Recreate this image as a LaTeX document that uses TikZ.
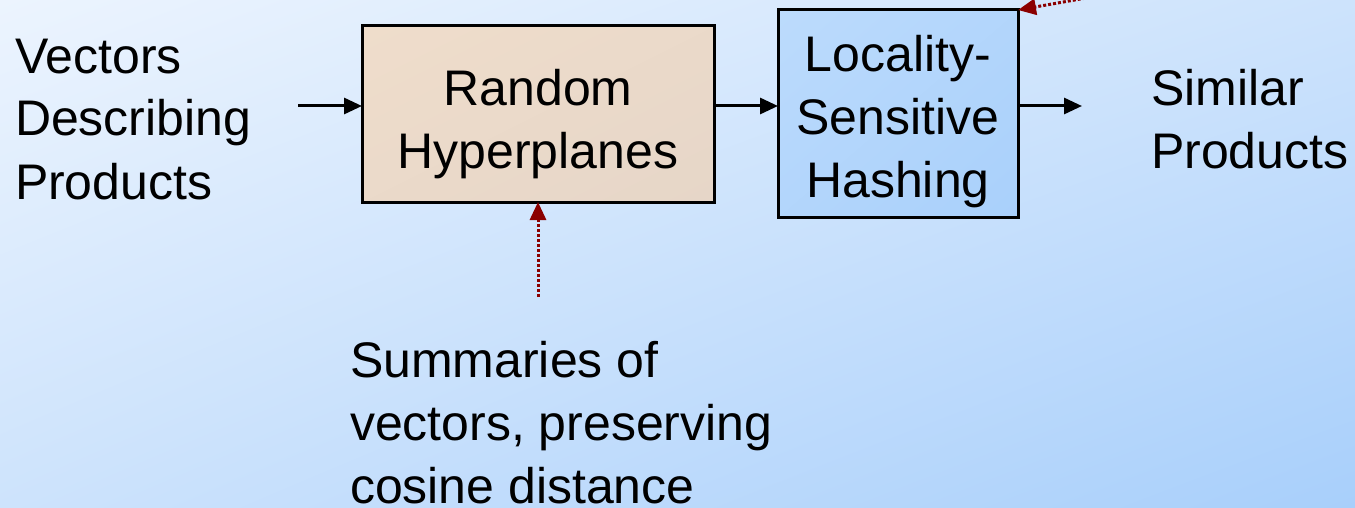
\documentclass[tikz,border=0pt]{standalone}
\usepackage{fontspec}
\setmainfont{Liberation Sans}
\usetikzlibrary{arrows.meta,shadings}
\definecolor{bgA}{HTML}{ECF4FE}
\definecolor{bgB}{HTML}{CDE3FC}
\definecolor{bgC}{HTML}{A8CFFB}
\definecolor{peachA}{HTML}{EFDDCB}
\definecolor{peachB}{HTML}{E6D6C8}
\definecolor{blueA}{HTML}{BCDBFC}
\definecolor{blueB}{HTML}{A9D0FB}
\definecolor{dred}{HTML}{8B0000}
\tikzset{
  txt/.style={inner sep=0pt,outer sep=0pt,font=\fontsize{50}{63}\selectfont},
  procbox/.style={draw=black,line width=3pt,inner sep=0pt,outer sep=0pt},
  flow/.style={line width=3pt,-{Triangle[length=18pt,width=16pt]}},
  hint/.style={draw=dred,line width=3pt,dotted,-{Triangle[length=18pt,width=16pt,fill=dred]},dred}
}
\begin{document}
\begin{tikzpicture}[x=1pt,y=-1pt]
\useasboundingbox (0,0) rectangle (1355,508);
\shade[upper left=bgA,upper right=bgB,lower left=bgB,lower right=bgC] (0,0) rectangle (1355,508);
% boxes
\shade[upper left=peachA,upper right=peachA!50!peachB,lower left=peachA!50!peachB,lower right=peachB] (362,26) rectangle (714,202);
\node[procbox,minimum width=352pt,minimum height=176pt] (rh) at (538,114) {};
\shade[upper left=blueA,upper right=blueA!50!blueB,lower left=blueA!50!blueB,lower right=blueB] (778,10) rectangle (1018,217);
\node[procbox,minimum width=240pt,minimum height=207pt] (lsh) at (898,113.5) {};
% texts
\node[txt,anchor=base west,align=left] (vec) at (15,199) {Vectors\\Describing\\Products};
\node[txt,anchor=base,align=center] (rht) at (538,168) {Random\\Hyperplanes};
\node[txt,anchor=base,align=center] (lsht) at (898,197) {Locality-\\Sensitive\\Hashing};
\node[txt,anchor=base west,align=left] (sim) at (1151,168) {Similar\\Products};
\node[txt,anchor=base west,align=left] (sum) at (350,503) {Summaries of\\vectors, preserving\\cosine distance};
% connectors
\coordinate (inS) at (298,106);
\coordinate (outE) at (1082,106);
\coordinate (sumS) at (538,297);
\coordinate (topS) at (1120,-8);
\draw[flow] (inS) -- (inS -| rh.west);
\draw[flow] (rh.east |- inS) -- (lsh.west |- inS);
\draw[flow] (lsh.east |- outE) -- (outE);
\draw[hint] (sumS) -- (rh.south);
\draw[hint] (topS) -- (lsh.north east);
\end{tikzpicture}
\end{document}
